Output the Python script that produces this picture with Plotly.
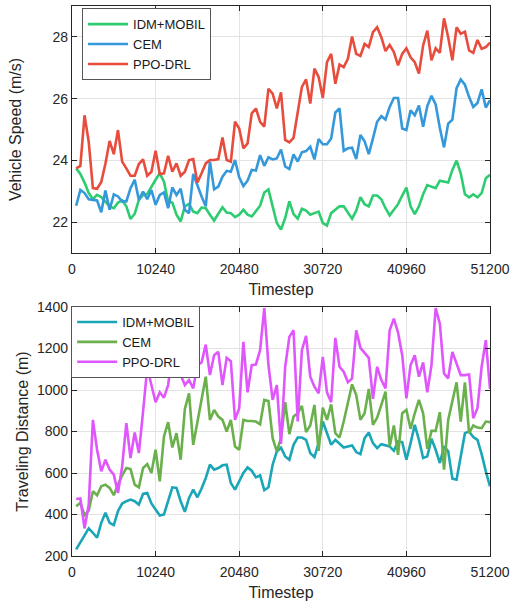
import plotly.graph_objects as go

timestep = [512 * k for k in range(1, 101)]
x_ticks = [0, 10240, 20480, 30720, 40960, 51200]

speed_idm = [23.74, 23.56, 23.28, 22.94, 22.74, 22.88, 22.81, 22.67, 22.51, 22.45,
             22.63, 22.70, 22.51, 22.10, 22.27, 22.72, 22.88, 22.91, 23.15, 23.37,
             23.58, 23.31, 22.67, 22.63, 22.24, 22.02, 22.51, 22.59, 22.34, 22.29,
             22.47, 22.45, 22.24, 22.05, 22.27, 22.48, 22.31, 22.29, 22.16, 22.24,
             22.40, 22.24, 22.18, 22.34, 22.53, 22.96, 23.06, 22.51, 21.97, 21.76,
             22.13, 22.67, 22.26, 22.11, 22.43, 22.37, 22.24, 22.29, 22.34, 21.97,
             21.89, 22.29, 22.40, 22.51, 22.51, 22.29, 22.11, 22.37, 22.81, 22.58,
             22.51, 22.86, 22.86, 22.74, 22.45, 22.22, 22.40, 22.58, 22.86, 23.12,
             22.51, 22.26, 22.51, 22.90, 23.20, 23.15, 23.10, 23.34, 23.31, 23.28,
             23.69, 23.99, 23.58, 22.90, 22.80, 22.90, 22.80, 22.94, 23.42, 23.53]

speed_cem = [22.53, 23.04, 22.94, 22.74, 22.72, 22.70, 22.32, 23.02, 22.40, 22.90,
             22.83, 22.67, 22.67, 23.10, 23.37, 22.72, 22.99, 22.74, 23.04, 22.56,
             22.88, 22.96, 22.45, 23.12, 22.88, 23.08, 22.40, 22.29, 23.56, 23.17,
             22.83, 22.51, 23.96, 23.06, 23.15, 23.47, 23.66, 23.63, 24.01, 23.45,
             23.17, 23.34, 23.69, 23.67, 24.17, 23.82, 24.10, 24.03, 24.06, 24.35,
             23.80, 23.72, 24.19, 23.96, 24.26, 24.30, 24.44, 24.03, 24.69, 24.52,
             24.52, 24.71, 25.55, 25.68, 24.31, 24.39, 24.41, 24.04, 24.82, 24.62,
             24.20, 24.71, 25.25, 25.43, 25.32, 25.73, 26.02, 26.02, 25.03, 24.98,
             25.62, 25.46, 25.78, 25.09, 25.76, 26.09, 25.81, 25.05, 24.42, 25.19,
             25.32, 26.34, 26.62, 26.45, 26.05, 25.73, 25.86, 26.30, 25.71, 25.95]

speed_ppo = [23.74, 23.82, 25.46, 24.60, 23.10, 23.08, 23.30, 23.90, 24.63, 24.20,
             24.98, 23.96, 23.74, 23.50, 23.50, 23.88, 24.03, 23.50, 23.63, 24.31,
             23.56, 23.58, 24.15, 23.63, 23.90, 23.50, 23.63, 24.01, 24.04, 23.28,
             23.58, 23.90, 24.01, 24.01, 24.04, 24.74, 24.01, 23.96, 25.25, 25.03,
             24.39, 24.55, 25.52, 25.68, 25.25, 25.09, 26.32, 26.16, 25.68, 26.20,
             24.66, 24.58, 24.73, 25.57, 26.38, 26.62, 25.84, 26.97, 26.70, 26.02,
             27.18, 27.45, 26.48, 27.10, 27.02, 27.29, 28.01, 27.45, 27.38, 27.77,
             27.67, 28.15, 28.31, 27.99, 27.54, 27.74, 27.51, 27.08, 27.45, 27.63,
             27.34, 27.18, 26.81, 27.72, 28.20, 27.24, 27.63, 27.48, 28.60, 27.99,
             27.24, 28.31, 28.10, 28.17, 27.56, 27.48, 27.90, 27.61, 27.67, 27.81]

dist_idm = [232, 264, 299, 333, 312, 288, 360, 408, 360, 349,
            416, 453, 464, 472, 464, 448, 499, 504, 453, 424,
            395, 400, 472, 531, 528, 464, 413, 480, 520, 483,
            525, 576, 640, 616, 624, 637, 640, 552, 520, 560,
            600, 627, 611, 579, 589, 517, 531, 640, 704, 722,
            680, 664, 736, 771, 771, 760, 696, 677, 744, 848,
            792, 736, 760, 739, 723, 728, 733, 701, 691, 768,
            795, 744, 720, 739, 733, 728, 707, 752, 749, 664,
            744, 832, 760, 672, 680, 765, 712, 648, 728, 704,
            573, 568, 680, 792, 800, 773, 760, 691, 608, 536]

dist_cem = [440, 456, 397, 419, 512, 493, 536, 544, 528, 493,
            544, 589, 624, 619, 544, 531, 624, 643, 600, 712,
            560, 776, 845, 723, 792, 664, 909, 984, 736, 848,
            944, 1064, 856, 904, 872, 856, 800, 856, 728, 712,
            856, 851, 851, 848, 835, 952, 947, 768, 704, 768,
            941, 787, 872, 888, 923, 797, 829, 928, 707, 915,
            856, 931, 792, 771, 848, 931, 1027, 976, 856, 888,
            1005, 832, 867, 928, 992, 728, 829, 688, 888, 904,
            813, 888, 952, 888, 717, 803, 803, 893, 616, 856,
            944, 1037, 848, 1037, 792, 829, 819, 816, 848, 845]

dist_ppo = [475, 477, 333, 448, 856, 712, 608, 664, 616, 592,
            504, 632, 840, 672, 795, 696, 896, 1107, 1024, 941,
            989, 963, 1024, 1180, 1100, 1072, 1024, 1048, 1008, 1120,
            1133, 1219, 1072, 1168, 1184, 1024, 1155, 1139, 856, 912,
            1232, 989, 1120, 1123, 1192, 1395, 1120, 952, 1024, 740,
            1112, 1256, 1288, 848, 1192, 1261, 1064, 1016, 984, 1160,
            989, 941, 1251, 1112, 1088, 1037, 1056, 1288, 1203, 1176,
            1155, 957, 1112, 1048, 1008, 1288, 1344, 1277, 1168, 960,
            1120, 1168, 1064, 1133, 989, 1120, 1395, 1320, 1080, 1056,
            1184, 1128, 1072, 1072, 1075, 864, 912, 1112, 1240, 1005]

speed_ticks = [22, 24, 26, 28]
dist_ticks = [200, 400, 600, 800, 1000, 1200, 1400]

FONT = "Arial, Liberation Sans, sans-serif"
LW = 2.6

fig = go.Figure()
top = [("IDM+MOBIL", speed_idm, "#2ecc71"), ("CEM", speed_cem, "#3498db"), ("PPO-DRL", speed_ppo, "#e74c3c")]
bot = [("IDM+MOBIL", dist_idm, "#1aa6b7"), ("CEM", dist_cem, "#6ab04c"), ("PPO-DRL", dist_ppo, "#e056fd")]
for name, ys, c in top:
    fig.add_trace(go.Scatter(x=timestep, y=ys, name=name, mode="lines",
                             line=dict(color=c, width=LW), xaxis="x", yaxis="y", legend="legend"))
for name, ys, c in bot:
    fig.add_trace(go.Scatter(x=timestep, y=ys, name=name, mode="lines",
                             line=dict(color=c, width=LW), xaxis="x2", yaxis="y2", legend="legend2"))

axis_common = dict(showline=True, linecolor="#262626", linewidth=1.3, mirror="ticks",
                   ticks="inside", ticklen=5, tickcolor="#262626", tickwidth=1,
                   showgrid=True, gridcolor="#e3e3e3", gridwidth=1, zeroline=False,
                   automargin=False, tickformat="d",
                   tickfont=dict(family=FONT, size=14, color="#262626"))

fig.update_layout(
    width=519, height=602,
    margin=dict(l=72, r=29, t=6, b=46),
    paper_bgcolor="white", plot_bgcolor="white",
    font=dict(family=FONT, color="#262626"),
    showlegend=True,
    xaxis=dict(domain=[0, 1], range=[0, 51200], tickvals=x_ticks, anchor="y", ticklabelstandoff=3,
               title=dict(text="Timestep", font=dict(family=FONT, size=16), standoff=7), **axis_common),
    yaxis=dict(domain=[0.551, 1.0], range=[21, 29], tickvals=speed_ticks, anchor="x",
               title=dict(text="Vehicle Speed (m/s)", font=dict(family=FONT, size=16), standoff=26), **axis_common),
    xaxis2=dict(domain=[0, 1], range=[0, 51200], tickvals=x_ticks, anchor="y2", ticklabelstandoff=3,
                title=dict(text="Timestep", font=dict(family=FONT, size=16), standoff=7), **axis_common),
    yaxis2=dict(domain=[0, 0.4527], range=[200, 1400], tickvals=dist_ticks, anchor="x2",
                title=dict(text="Traveling Distance (m)", font=dict(family=FONT, size=16), standoff=4), **axis_common),
    legend=dict(x=0.024, y=0.996, xanchor="left", yanchor="top", bgcolor="white",
                bordercolor="#555555", borderwidth=1, font=dict(family=FONT, size=13, color="#1a1a1a"),
                tracegroupgap=0, itemwidth=40),
    legend2=dict(x=-0.002, y=0.4545, xanchor="left", yanchor="top", bgcolor="white",
                 bordercolor="#555555", borderwidth=1, font=dict(family=FONT, size=13, color="#1a1a1a"),
                 tracegroupgap=0, itemwidth=40),
)

fig.write_html("out.html", config={"displayModeBar": False},
               post_script="document.body.style.margin='0';")
